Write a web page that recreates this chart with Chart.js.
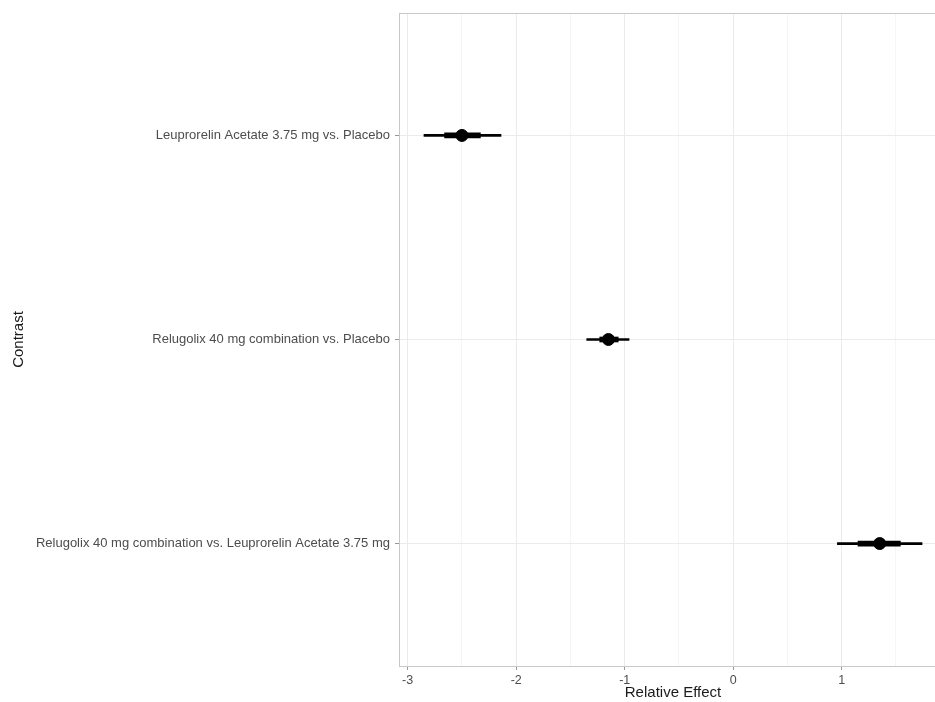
<!DOCTYPE html>
<html lang="en">
<head>
<meta charset="UTF-8">
<title>Relative effect by contrast</title>
<script src="https://cdn.jsdelivr.net/npm/chart.js"></script>
<style>
  html, body { margin: 0; padding: 0; background: #fff; overflow: hidden; }
  /* panel runs a bit past the window edge, like the cropped original */
  .chart-box { width: 947px; height: 702px; position: relative; }
</style>
</head>
<body>
<div class="chart-box"><canvas id="forestChart" width="947" height="702"></canvas></div>
<script>
// contrasts, top to bottom
const contrasts = [
  'Leuprorelin Acetate 3.75 mg vs. Placebo',
  'Relugolix 40 mg combination vs. Placebo',
  'Relugolix 40 mg combination vs. Leuprorelin Acetate 3.75 mg'
];
const rowPos = [1, 2, 3];

// point estimate and two interval widths (thin = outer, thick = inner)
const estimate  = [-2.50, -1.15, 1.35];
const outerLow  = [-2.85, -1.35, 0.96];
const outerHigh = [-2.14, -0.96, 1.74];
const innerLow  = [-2.66, -1.23, 1.15];
const innerHigh = [-2.33, -1.06, 1.54];

const xMajor = [-3, -2, -1, 0, 1];
const xMinor = [-2.5, -1.5, -0.5, 0.5, 1.5];

const FONT = '"Liberation Sans", Arial, sans-serif';

const rangeData = (lo, hi) => rowPos.map((y, i) => ({ y: y, x: [lo[i], hi[i]] }));

// top edge of the panel box
const panelBorder = {
  id: 'panelBorder',
  afterDraw(chart) {
    const { ctx, chartArea: a } = chart;
    ctx.save();
    ctx.strokeStyle = '#c8c8c8';
    ctx.lineWidth = 1;
    ctx.beginPath();
    ctx.moveTo(a.left, a.top + 0.5);
    ctx.lineTo(a.right, a.top + 0.5);
    ctx.stroke();
    ctx.restore();
  }
};

new Chart(document.getElementById('forestChart'), {
  type: 'bar',
  data: {
    datasets: [
      {
        label: 'outer',
        data: rangeData(outerLow, outerHigh),
        backgroundColor: '#000',
        barThickness: 2,
        grouped: false,
        borderSkipped: false
      },
      {
        label: 'inner',
        data: rangeData(innerLow, innerHigh),
        backgroundColor: '#000',
        barThickness: 5,
        grouped: false,
        borderSkipped: false
      },
      {
        type: 'scatter',
        label: 'estimate',
        data: rowPos.map((y, i) => ({ x: estimate[i], y: y })),
        backgroundColor: '#000',
        borderColor: '#000',
        pointRadius: 6,
        pointHoverRadius: 6
      }
    ]
  },
  options: {
    indexAxis: 'y',
    responsive: false,
    animation: false,
    layout: { autoPadding: false, padding: { top: 13, left: 0, right: 0, bottom: 0 } },
    plugins: {
      legend: { display: false },
      tooltip: { enabled: false }
    },
    scales: {
      x: {
        type: 'linear',
        min: -3.08,
        max: 1.97,
        afterBuildTicks: (s) => {
          s.ticks = xMajor.concat(xMinor).sort((a, b) => a - b).map(v => ({ value: v }));
        },
        afterFit: (s) => { s.height = 36; },
        grid: {
          color: (c) => Number.isInteger(c.tick.value) ? '#ebebeb' : '#f5f5f5',
          tickColor: (c) => Number.isInteger(c.tick.value) ? '#999' : 'rgba(0,0,0,0)',
          tickLength: 4,
          lineWidth: 1
        },
        border: { color: '#c8c8c8' },
        ticks: {
          autoSkip: false,
          maxRotation: 0,
          padding: 3,
          color: '#4d4d4d',
          font: { family: FONT, size: 12.5 },
          callback: (v) => Number.isInteger(v) ? String(v) : ''
        },
        title: {
          display: true,
          text: 'Relative Effect',
          color: '#1a1a1a',
          font: { family: FONT, size: 15 },
          padding: { top: 0, bottom: 0 }
        }
      },
      y: {
        type: 'linear',
        reverse: true,
        offset: false,
        min: 0.4,
        max: 3.6,
        afterBuildTicks: (s) => { s.ticks = rowPos.map(v => ({ value: v })); },
        afterFit: (s) => { s.width = 399; },
        grid: {
          offset: false,
          color: '#ebebeb',
          tickColor: '#999',
          tickLength: 4
        },
        border: { color: '#c8c8c8' },
        ticks: {
          padding: 5,
          color: '#4d4d4d',
          font: { family: FONT, size: 13 },
          callback: (v) => contrasts[rowPos.indexOf(v)]
        },
        title: {
          display: true,
          text: 'Contrast',
          color: '#1a1a1a',
          font: { family: FONT, size: 15 },
          padding: { top: 10, bottom: 0 }
        }
      }
    }
  },
  plugins: [panelBorder]
});
</script>
</body>
</html>
